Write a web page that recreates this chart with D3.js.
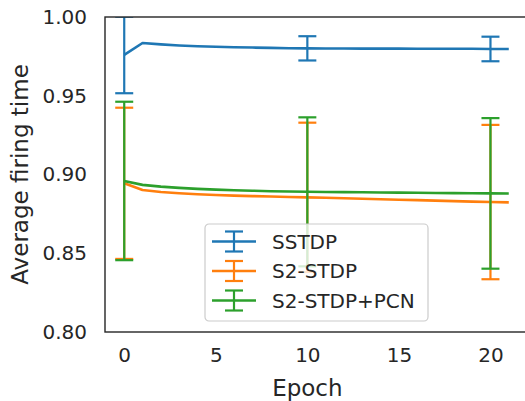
<!DOCTYPE html>
<html>
<head>
<meta charset="utf-8">
<script src="https://cdn.jsdelivr.net/npm/d3@7"></script>
<style>
  body { margin: 0; background: #fff; }
  text { font-family: "DejaVu Sans", sans-serif; fill: #262626; }
</style>
</head>
<body>
<svg id="chart" width="525" height="401"></svg>
<script>
// values
const epochs = d3.range(0, 22);
const sstdp = [0.9759, 0.9835, 0.9826, 0.9819, 0.9814, 0.9811, 0.9808, 0.9806, 0.9804, 0.9802, 0.9801,
    0.9800, 0.9800, 0.9799, 0.9799, 0.9799, 0.9798, 0.9798, 0.9798, 0.9798, 0.9797, 0.9797];
const s2stdp = [0.8944, 0.8902, 0.8889, 0.8881, 0.8875, 0.8870, 0.8866, 0.8863, 0.8860, 0.8857, 0.8855,
    0.8852, 0.8849, 0.8846, 0.8843, 0.8840, 0.8837, 0.8834, 0.8831, 0.8828, 0.8825, 0.8823];
const s2pcn = [0.8959, 0.8934, 0.8923, 0.8915, 0.8909, 0.8904, 0.8900, 0.8897, 0.8894, 0.8892, 0.8890,
    0.8889, 0.8888, 0.8887, 0.8886, 0.8885, 0.8884, 0.8883, 0.8882, 0.8881, 0.8880, 0.8879];
// error bars (epoch, mean, std)
const errEpochs = [0, 10, 20];
const sstdpErr = [0.0243, 0.0077, 0.0078];
const s2stdpErr = [0.0480, 0.0474, 0.0490];
const s2pcnErr = [0.0503, 0.0473, 0.0478];
const xTicks = [0, 5, 10, 15, 20];
const yTicks = [0.80, 0.85, 0.90, 0.95, 1.00];

const series = [
    { name: "SSTDP", values: sstdp, err: sstdpErr, color: "#1f77b4" },
    { name: "S2-STDP", values: s2stdp, err: s2stdpErr, color: "#ff7f0e" },
    { name: "S2-STDP+PCN", values: s2pcn, err: s2pcnErr, color: "#2ca02c" }
];

const svg = d3.select("#chart"),
    margin = { top: 17, right: -3, bottom: 69, left: 105 },
    width = +svg.attr("width") - margin.left - margin.right,
    height = +svg.attr("height") - margin.top - margin.bottom,
    g = svg.append("g").attr("transform", "translate(" + margin.left + "," + margin.top + ")");

const x = d3.scaleLinear().domain([-1.05, 22.05]).range([0, width]),
    y = d3.scaleLinear().domain([0.80, 1.00]).range([height, 0]);

svg.append("defs").append("clipPath").attr("id", "clip")
    .append("rect").attr("width", width).attr("height", height);

const plot = g.append("g").attr("clip-path", "url(#clip)");

const line = d3.line()
    .x((d, i) => x(epochs[i]))
    .y(d => y(d));

const cap = 9;
series.forEach(s => {
    plot.append("path")
        .datum(s.values)
        .attr("d", line)
        .attr("fill", "none")
        .attr("stroke", s.color)
        .attr("stroke-width", 2.6)
        .attr("stroke-linejoin", "round");

    const eb = plot.append("g").selectAll("g")
        .data(errEpochs)
        .join("g")
        .attr("stroke", s.color)
        .attr("stroke-width", 2.2);
    eb.append("line")
        .attr("x1", d => x(d)).attr("x2", d => x(d))
        .attr("y1", (d, i) => y(s.values[d] - s.err[i]))
        .attr("y2", (d, i) => y(s.values[d] + s.err[i]));
    [-1, 1].forEach(sign => {
        eb.append("line")
            .attr("x1", d => x(d) - cap).attr("x2", d => x(d) + cap)
            .attr("y1", (d, i) => y(s.values[d] + sign * s.err[i]))
            .attr("y2", (d, i) => y(s.values[d] + sign * s.err[i]));
    });
});

// axes
const xAxis = g.append("g")
    .attr("transform", "translate(0," + height + ")")
    .call(d3.axisBottom(x).tickValues(xTicks).tickFormat(d3.format("d")).tickSize(0).tickPadding(16));
const yAxis = g.append("g")
    .call(d3.axisLeft(y).tickValues(yTicks).tickFormat(d3.format(".2f")).tickSize(0).tickPadding(18));
[xAxis, yAxis].forEach(a => {
    a.select(".domain").remove();
    a.selectAll("text").style("font-size", "20px").attr("fill", "#262626");
});

// spines
g.append("rect")
    .attr("width", width).attr("height", height)
    .attr("fill", "none")
    .attr("stroke", "#262626")
    .attr("stroke-width", 1.4);

svg.append("text")
    .attr("x", margin.left + x(10))
    .attr("y", 396)
    .attr("text-anchor", "middle")
    .style("font-size", "23px")
    .text("Epoch");

svg.append("text")
    .attr("transform", "translate(28," + (margin.top + height / 2) + ") rotate(-90)")
    .attr("text-anchor", "middle")
    .style("font-size", "23px")
    .text("Average firing time");

// legend
const legend = svg.append("g").attr("transform", "translate(205,224)");
legend.append("rect")
    .attr("width", 223).attr("height", 97)
    .attr("rx", 4)
    .attr("fill", "#fff").attr("fill-opacity", 0.8)
    .attr("stroke", "#cccccc").attr("stroke-width", 1.2);

const item = legend.selectAll("g.item")
    .data(series)
    .join("g")
    .attr("class", "item")
    .attr("transform", (d, i) => "translate(0," + (17.5 + i * 29.5) + ")");
item.append("line")
    .attr("x1", 7).attr("x2", 51)
    .attr("stroke", d => d.color).attr("stroke-width", 2.6);
item.append("line")
    .attr("x1", 29).attr("x2", 29).attr("y1", -10).attr("y2", 10)
    .attr("stroke", d => d.color).attr("stroke-width", 2.2);
[-10, 10].forEach(dy => {
    item.append("line")
        .attr("x1", 20).attr("x2", 38).attr("y1", dy).attr("y2", dy)
        .attr("stroke", d => d.color).attr("stroke-width", 2.2);
});
item.append("text")
    .attr("x", 67)
    .attr("dy", "0.36em")
    .style("font-size", "20px")
    .text(d => d.name);
</script>
</body>
</html>
